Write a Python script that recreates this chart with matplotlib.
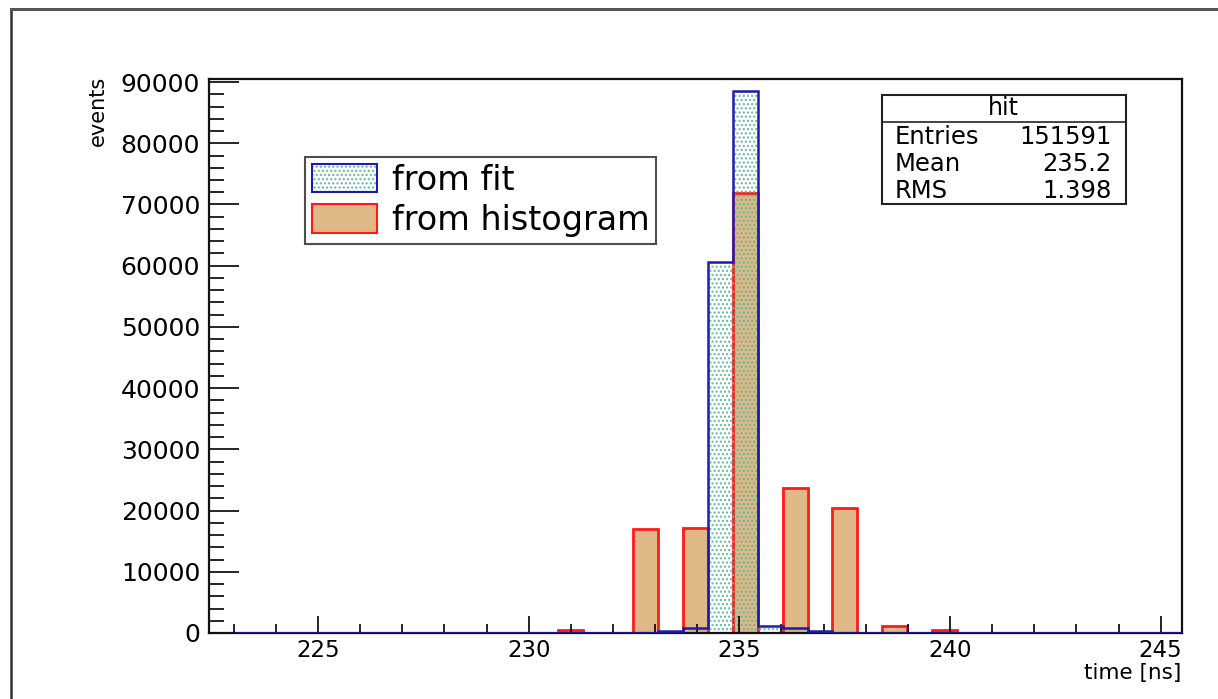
import matplotlib
matplotlib.use("Agg")
import matplotlib.pyplot as plt
import numpy as np
from matplotlib.patches import Patch
from matplotlib.lines import Line2D
from matplotlib.ticker import MultipleLocator, FormatStrFormatter

plt.rcParams['font.family'] = ['DejaVu Sans']
plt.rcParams['hatch.linewidth'] = 1.0

# histogram binning (time in ns)
bin_lo = 223.0
bin_hi = 245.5
n_bins = 38

# counts per bin
counts_fit = [0, 0, 0, 0, 0, 0, 0, 0, 0, 0,
              0, 0, 0, 0, 0, 0, 0, 270, 760, 60650,
              88500, 1200, 760, 270, 0, 0, 0, 0, 0, 0,
              0, 0, 0, 0, 0, 0, 0, 0]
counts_hist = [0, 0, 0, 0, 0, 0, 0, 0, 0, 0,
               0, 0, 0, 450, 0, 0, 16950, 0, 17100, 0,
               71850, 0, 23650, 0, 20500, 0, 1200, 0, 450, 0,
               0, 0, 0, 0, 0, 0, 0, 0]

legend_labels = ["from fit", "from histogram"]
stats_title = "hit"
stats_names = ["Entries", "Mean", "RMS"]
stats_values = ["151591", "235.2", "1.398"]

W, H = 1218, 699
fig = plt.figure(figsize=(W / 100, H / 100), dpi=100)
ax = fig.add_axes([208.5 / W, 1 - 633 / H, (1181.7 - 208.5) / W, (633 - 79.3) / H])

edges = np.linspace(bin_lo, bin_hi, n_bins + 1)
tan = "#deb887"
red = "#ff1a1a"
blue = "#1c1cb0"
dotc = "#5fb89a"

# red histogram: tan fill + red outline
ax.stairs(counts_hist, edges, fill=True, facecolor=tan, edgecolor="none", zorder=1)
ax.stairs(counts_hist, edges, color=red, linewidth=2.0, zorder=1.1)
# blue histogram: dotted fill + blue outline
ax.stairs(counts_fit, edges, fill=True, facecolor="none", edgecolor=dotc,
          hatch="....", linewidth=0, zorder=1.2)
ax.stairs(counts_fit, edges, color=blue, linewidth=1.8, zorder=3)

ax.set_xlim(222.4, 245.5)
ax.set_ylim(0, 90450)

ax.xaxis.set_major_locator(MultipleLocator(5))
ax.xaxis.set_minor_locator(MultipleLocator(1))
ax.yaxis.set_major_locator(MultipleLocator(10000))
ax.yaxis.set_minor_locator(MultipleLocator(2000))
ax.yaxis.set_major_formatter(FormatStrFormatter("%d"))

ax.tick_params(axis="x", which="major", direction="in", length=12.2, width=1.2,
               labelsize=16.5, pad=4, top=False)
ax.tick_params(axis="x", which="minor", direction="in", length=6.5, width=1.2, top=False)
ax.tick_params(axis="y", which="major", direction="in", length=21.5, width=1.2,
               labelsize=18, pad=6, right=False)
ax.tick_params(axis="y", which="minor", direction="in", length=10.5, width=1.2, right=False)
for s in ax.spines.values():
    s.set_linewidth(1.6)
    s.set_color("#111111")

fig.text(1181.7 / W, 1 - 673 / H, "time [ns]", ha="right", va="center", fontsize=15.5)
fig.text(98 / W, 1 - 76 / H, "events", rotation=90, ha="center", va="top", fontsize=15)

# legend
h_fit = (Patch(facecolor="white", edgecolor=dotc, hatch="....", linewidth=0),
         Patch(facecolor="none", edgecolor=blue, linewidth=1.5))
h_hist = Patch(facecolor=tan, edgecolor=red, linewidth=1.5)
leg = fig.legend([h_fit, h_hist], legend_labels, loc="upper left",
                 bbox_to_anchor=(305 / W, 1 - 157 / H), fontsize=24,
                 frameon=True, fancybox=False, edgecolor="#222222",
                 handlelength=1.95, handleheight=0.93, borderpad=0.2,
                 labelspacing=0.22, handletextpad=0.45, borderaxespad=0)
leg.get_frame().set_linewidth(1.5)

# stats box
bx0, bx1, by0, by1 = 881.7, 1125.5, 95, 204.3
fig.patches.append(plt.Rectangle((bx0 / W, 1 - by1 / H), (bx1 - bx0) / W, (by1 - by0) / H,
                                 transform=fig.transFigure, facecolor="white",
                                 edgecolor="#222222", linewidth=1.5, zorder=5))
fig.add_artist(Line2D([bx0 / W, bx1 / W], [1 - 121.7 / H] * 2, color="#222222",
                      linewidth=1.2, zorder=6))
fig.text((bx0 + bx1) / 2 / W, 1 - 108 / H, stats_title, ha="center", va="center",
         fontsize=17, zorder=7)
for i, (nm, val) in enumerate(zip(stats_names, stats_values)):
    yy = 1 - (136.7 + i * 27.3) / H
    fig.text(895 / W, yy, nm, ha="left", va="center", fontsize=17.5, zorder=7)
    fig.text(1111.7 / W, yy, val, ha="right", va="center", fontsize=17.5, zorder=7)

# canvas frame (left and top edges)
fig.add_artist(Line2D([11 / W, 11 / W], [0, 1 - 9 / H], color="#333333", linewidth=1.8))
fig.add_artist(Line2D([11 / W, 1], [1 - 9 / H, 1 - 9 / H], color="#555555", linewidth=2.2))

fig.savefig("out.png", dpi=100)
